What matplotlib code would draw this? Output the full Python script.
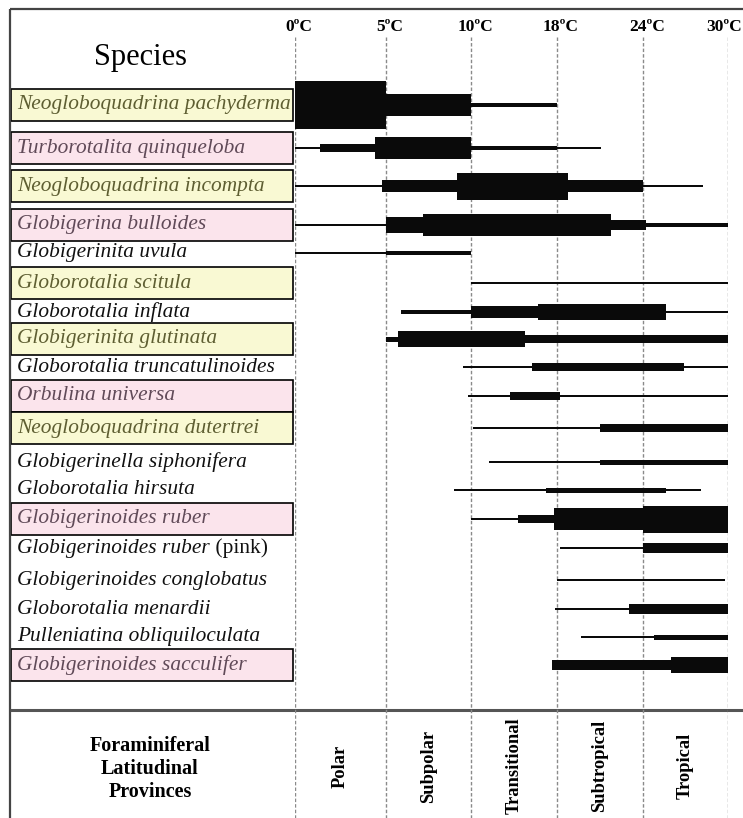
import numpy as np
import matplotlib
matplotlib.use('Agg')
import matplotlib.pyplot as plt
import matplotlib.transforms as mtransforms
from matplotlib.patches import Rectangle

# temperature ticks along the top
tick_temps = [0, 5, 10, 18, 24, 30]
tick_labels = ['0ºC', '5ºC', '10ºC', '18ºC', '24ºC', '30ºC']

species = [
    'Neogloboquadrina pachyderma', 'Turborotalita quinqueloba',
    'Neogloboquadrina incompta', 'Globigerina bulloides',
    'Globigerinita uvula', 'Globorotalia scitula', 'Globorotalia inflata',
    'Globigerinita glutinata', 'Globorotalia truncatulinoides',
    'Orbulina universa', 'Neogloboquadrina dutertrei',
    'Globigerinella siphonifera', 'Globorotalia hirsuta',
    'Globigerinoides ruber', 'Globigerinoides ruber',
    'Globigerinoides conglobatus', 'Globorotalia menardii',
    'Pulleniatina obliquiloculata', 'Globigerinoides sacculifer',
]
suffix = ['', '', '', '', '', '', '', '', '', '', '', '', '', '', ' (pink)', '', '', '', '']
highlight = ['y', 'p', 'y', 'p', '', 'y', '', 'y', '', 'p', 'y', '', '', 'p', '', '', '', '', 'p']

# (from °C, to °C, abundance class) for each species
ranges = [
    [(0, 5, 10), (5, 10, 8), (10, 18, 2)],
    [(0, 1.4, 1), (1.4, 4.4, 4), (4.4, 10, 8), (10, 18, 2), (18, 21.1, 1)],
    [(0, 4.8, 1), (4.8, 9.2, 6), (9.2, 18.8, 9), (18.8, 24, 6), (24, 28.2, 1)],
    [(0, 5, 1), (5, 7.2, 7), (7.2, 21.8, 8), (21.8, 24.2, 5), (24.2, 30, 2)],
    [(0, 5, 1), (5, 10, 2)],
    [(10, 23, 1), (23, 30, 0)],
    [(5.9, 10, 2), (10, 16.2, 6), (16.2, 25.6, 7), (25.6, 30, 1)],
    [(5, 5.7, 3), (5.7, 15, 7), (15, 30, 4)],
    [(9.5, 15.7, 1), (15.7, 26.9, 4), (26.9, 30, 1)],
    [(9.8, 13.6, 1), (13.6, 18.2, 4), (18.2, 30, 1)],
    [(10.2, 21, 1), (21, 30, 4)],
    [(11.7, 21, 1), (21, 30, 3)],
    [(9, 17, 1), (17, 25.6, 3), (25.6, 28.1, 1)],
    [(10, 14.4, 1), (14.4, 17.7, 4), (17.7, 24, 8), (24, 30, 9)],
    [(18.2, 24, 1), (24, 30, 5)],
    [(18, 29.8, 1)],
    [(17.8, 23, 1), (23, 30, 5)],
    [(19.7, 24.8, 1), (24.8, 30, 3)],
    [(17.5, 26, 5), (26, 30, 7)],
]

provinces = ['Polar', 'Subpolar', 'Transitional', 'Subtropical', 'Tropical']

# abundance class -> bar thickness in pixels
thick = {0: 1.4, 1: 2, 2: 3.5, 3: 5, 4: 7.5, 5: 9.5, 6: 12, 7: 15.5, 8: 21.5, 9: 27, 10: 48}
box_fill = {'y': '#f9f9d3', 'p': '#fbe4ec'}
text_col = {'y': '#5e5e32', 'p': '#604a58', '': '#111111'}

# row centres (pixels from top)
row_y = [105, 148, 186, 225, 253, 283, 312, 339, 367, 396, 428, 462, 490, 519, 548, 580, 609, 637, 665]

W, H = 743, 818
tick_px = [295, 386, 471, 557, 643, 728]

fig = plt.figure(figsize=(W / 100, H / 100), dpi=100)
lab = fig.add_axes([0, 0, 1, 1])
lab.set_xlim(0, W)
lab.set_ylim(H, 0)
lab.axis('off')

ax = fig.add_axes([tick_px[0] / W, 0, (tick_px[-1] - tick_px[0]) / W, 1])
fwd = lambda t: np.interp(t, tick_temps, tick_px)
inv = lambda p: np.interp(p, tick_px, tick_temps)
ax.set_xscale('function', functions=(fwd, inv))
ax.set_xlim(0, 30)
ax.set_ylim(H, 0)
ax.axis('off')

serif = 'Liberation Serif'

# frame
lab.plot([10, 10], [9, H], color='#444444', lw=1.6, solid_capstyle='butt')
lab.plot([10, W], [9, 9], color='#444444', lw=1.6, solid_capstyle='butt')
lab.plot([10, W], [710, 710], color='#555555', lw=2.2, solid_capstyle='butt')

lab.text(140, 57, 'Species', family=serif, fontsize=22, ha='center', va='center')

# species labels
for name, suf, hl, y in zip(species, suffix, highlight, row_y):
    if hl:
        lab.add_patch(Rectangle((11, y - 16), 282, 32, facecolor=box_fill[hl],
                                edgecolor='black', lw=1.2, zorder=1))
    t = lab.text(17, y, name, family=serif, style='italic', fontsize=15.4,
                 color=text_col[hl], va='center', zorder=2)
    if suf:
        lab.annotate(suf, xy=(1, 0), xycoords=t, va='bottom', ha='left',
                     family=serif, fontsize=15.4, color=text_col[hl], zorder=2)

# temperature grid
ax.vlines(tick_temps, 37, H, colors='#8a8a8a', lw=1.0, linestyles=(0, (2.5, 1.5)), zorder=1)
shift = mtransforms.ScaledTranslation(4 / 100, 0, fig.dpi_scale_trans)
for tt, tl in zip(tick_temps, tick_labels):
    if tt == tick_temps[-1]:
        lab.text(W - 1, 27, tl, family=serif, weight='bold', fontsize=12.5,
                 ha='right', va='center')
    else:
        ax.text(tt, 27, tl, family=serif, weight='bold', fontsize=12.5,
                ha='center', va='center', clip_on=False,
                transform=ax.transData + shift)

# ranges
for segs, y in zip(ranges, row_y):
    for t0, t1, k in segs:
        ax.barh(y, t1 - t0, left=t0, height=thick[k], color='#0a0a0a', lw=0, zorder=3)

# province row
lab.text(150, 769, 'Foraminiferal\nLatitudinal\nProvinces', family=serif, weight='bold',
         fontsize=14.5, ha='center', va='center', linespacing=1.2)
for i, p in enumerate(provinces):
    xm = inv((tick_px[i] + tick_px[i + 1]) / 2)
    ax.text(xm, 766, p, family=serif, weight='bold', fontsize=13.3,
            rotation=90, ha='center', va='center')

fig.savefig('out.png', dpi=100)
